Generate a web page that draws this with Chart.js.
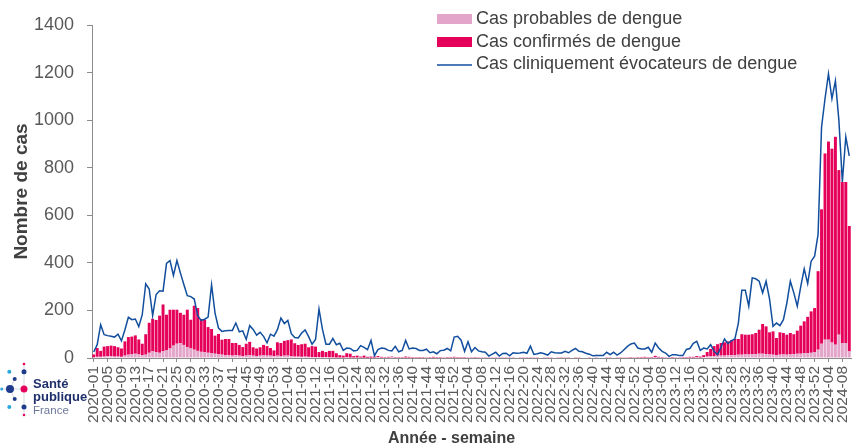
<!DOCTYPE html>
<html><head><meta charset="utf-8">
<script src="https://cdn.jsdelivr.net/npm/chart.js@4.4.1/dist/chart.umd.min.js"></script>
<style>
html,body{margin:0;padding:0;background:#fff;}
#wrap{position:relative;width:853px;height:446px;overflow:hidden;}
#c{position:absolute;left:0;top:0;}
#logo{position:absolute;left:0;top:358px;}
</style></head><body>
<div id="wrap">
<canvas id="c" width="853" height="446"></canvas>
<svg id="logo" width="92" height="66" viewBox="0 0 92 66">
  <g stroke="#c9cdd8" stroke-width="0.8">
    <line x1="10" y1="31" x2="24" y2="31"/><line x1="24" y1="6" x2="24" y2="57"/>
    <line x1="10" y1="31" x2="14.7" y2="21"/><line x1="10" y1="31" x2="14.7" y2="41"/>
    <line x1="1.7" y1="31" x2="10" y2="31"/>
  </g>
  <circle cx="9.3" cy="13.7" r="2" fill="#2aa6df"/>
  <circle cx="24" cy="13.7" r="2.5" fill="#1f3b8c"/>
  <circle cx="24" cy="6" r="1.3" fill="#e4005b"/>
  <circle cx="14.7" cy="21" r="2" fill="#1f3b8c"/>
  <circle cx="10" cy="31" r="4" fill="#1f3b8c"/>
  <circle cx="1.7" cy="31" r="1.5" fill="#2aa6df"/>
  <circle cx="24" cy="31" r="3.5" fill="#e4005b"/>
  <circle cx="14.7" cy="41" r="2" fill="#1f3b8c"/>
  <circle cx="9.3" cy="49" r="2" fill="#2aa6df"/>
  <circle cx="24" cy="49" r="2.5" fill="#1f3b8c"/>
  <circle cx="24" cy="57" r="1.3" fill="#e4005b"/>
  <text x="33" y="30" font-family="Liberation Sans" font-weight="bold" font-size="13" fill="#1e2f6b">Santé</text>
  <text x="33" y="43" font-family="Liberation Sans" font-weight="bold" font-size="13" fill="#1e2f6b">publique</text>
  <text x="33" y="56" font-family="Liberation Sans" font-size="11.5" fill="#6b7899">France</text>
</svg>
</div>
<script>
// Catégories : semaines ISO de 2020-01 à 2024-10
const annees = [2020, 2021, 2022, 2023, 2024];
const semainesParAnnee = [53, 52, 52, 52, 10];
const semaines = [];
annees.forEach((a, k) => { for (let w = 1; w <= semainesParAnnee[k]; w++) semaines.push(a + '-' + String(w).padStart(2, '0')); });

// Cas probables de dengue (barres, bas de la pile)
const probables = [
 3,5,5,6,8,8,6,6,5,10, 14,15,18,15,12,14,22,28,25,22, 28,32,40,52,60,62,55,45,40,35,
 30,26,24,22,20,18,16,14,12,12, 10,12,10,8,10,12,10,8,10,12, 10,10,8,
 10,8,10,10,8,6,6,5,6,5, 4,4,4,3,4,3,3,2,2,2, 3,2,2,2,2,1,1,1,
 2,3,2,2,2,3,2,1,2,2,2,2,1,1,2,1,1,2,2,1,1,1,2,2,
 2,1,1,1,1,1,1,0,1,0, 0,1,0,0,1,0,0,0,0,0, 1,0,0,0,0,0,0,0,0,0, 1,0,0,0,0,0,0,0,0,0, 0,0,0,0,0,0,0,1,0,1, 1,1,
 1,2,2,1,2,3,2,1,1,1,1,1,1,1,2,2,2,3,2,
 4,6,8,8,10,10,10,12,12,12, 14,14,15,15,16,16,18,18,16,15, 14,12,14,15,14,15,16,18,18,20,
 20,22,25,35,60,77,77,65,56,98, 63,63,28
];

// Cas confirmés de dengue (barres, haut de la pile)
const confirmes = [
 12,37,25,42,42,44,44,39,35,60, 74,75,77,63,48,86,126,137,135,156, 197,150,163,151,143,128,127,158,121,185,
 180,138,137,108,102,76,85,63,68,68, 53,51,45,38,50,56,35,32,35,43, 40,32,24,
 56,55,62,65,70,56,49,53,54,40, 46,44,21,27,21,27,27,18,10,8, 17,16,6,8,4,9,4,5,
 4,5,3,2,3,3,2,2,2,4,3,2,2,2,2,1,2,3,2,2,1,2,2,3,
 2,2,2,1,1,2,1,1,1,1, 1,1,1,1,1,1,1,0,1,1, 1,1,1,1,0,1,1,1,0,1, 1,1,1,0,1,1,0,0,1,0, 1,0,0,1,1,0,1,1,1,1, 2,1,
 2,2,3,2,2,6,3,2,1,1,2,1,1,2,2,3,3,5,4,
 8,19,30,42,48,53,56,58,63,68, 66,86,83,83,84,89,101,125,117,93, 98,72,94,90,84,90,84,97,118,134,
 153,174,185,330,565,783,833,815,874,692, 677,677,527
];

// Cas cliniquement évocateurs de dengue (ligne)
const cliniques = [
 25,56,140,98,94,91,88,100,72,119, 171,161,164,132,182,312,290,178,267,283, 281,398,410,347,410,358,309,262,258,248,
 178,158,163,172,308,189,126,112,115,116, 116,147,110,114,78,136,120,96,108,91, 64,100,92,
 119,168,145,158,102,86,84,105,118,90, 58,78,206,120,58,58,82,56,62,32, 42,40,30,32,52,45,35,74,10,35,
 42,40,32,30,49,26,32,74,38,42, 40,32,32,37,22,26,18,31,33,40, 30,88,
 91,75,28,68,26,44,30,26,24,8, 16,24,8,19,20,9,22,20,21,24, 20,50,15,18,22,18,12,26,22,21,
 21,28,22,32,40,28,26,20,16,9, 10,10,10,24,14,24,12,21,35,49, 59,63,
 42,38,38,45,24,63,42,28,21,7,14,14,10,10,36,40,62,70,32,
 42,38,56,28,14,46,80,60,73,80, 147,285,285,218,337,333,323,274,323,248, 133,147,136,161,232,323,274,218,300,375,
 313,407,428,520,970,1090,1195,1090,1165,1000, 740,930,850
];

const yTicks = [0, 200, 400, 600, 800, 1000, 1200, 1400];

const FONT = 'Liberation Sans';

const legendePlugin = {
  id: 'legende',
  afterDraw(chart) {
    const ctx = chart.ctx;
    const rows = [19, 42, 64.5];
    ctx.save();
    ctx.font = '18px "' + FONT + '"';
    ctx.textBaseline = 'middle';
    ctx.textAlign = 'left';
    chart.data.datasets.forEach((d, k) => {
      const y = rows[k];
      if (d.type === 'line') {
        ctx.strokeStyle = d.borderColor; ctx.lineWidth = 1.5;
        ctx.beginPath(); ctx.moveTo(437, y + 0.5); ctx.lineTo(472, y + 0.5); ctx.stroke();
      } else {
        ctx.fillStyle = d.backgroundColor; ctx.fillRect(437, y - 5, 35, 10);
      }
      ctx.fillStyle = '#404040';
      ctx.fillText(d.label, 476, y);
    });
    // titre de l'axe des abscisses
    const t = chart.options.scales.x.title;
    ctx.font = 'bold 16px "' + FONT + '"';
    ctx.fillStyle = '#404040';
    ctx.textAlign = 'center';
    ctx.fillText(t.text, 451.5, 439);
    ctx.restore();
  }
};

new Chart(document.getElementById('c'), {
  type: 'bar',
  data: {
    labels: semaines,
    datasets: [
      { type: 'bar', label: 'Cas probables de dengue', data: probables, backgroundColor: '#e3a6ca',
        stack: 'cas', order: 1, categoryPercentage: 1, barPercentage: 0.85 },
      { type: 'bar', label: 'Cas confirmés de dengue', data: confirmes, backgroundColor: '#e5005a',
        stack: 'cas', order: 2, categoryPercentage: 1, barPercentage: 0.85 },
      { type: 'line', label: 'Cas cliniquement évocateurs de dengue', data: cliniques, borderColor: '#124e9e',
        borderWidth: 1.5, pointRadius: 0, fill: false, tension: 0, stack: 'ligne', order: 0 }
    ]
  },
  options: {
    responsive: false, animation: false, devicePixelRatio: 1,
    layout: { padding: { top: 25, right: 2, left: 0, bottom: 0 } },
    plugins: { legend: { display: false }, tooltip: { enabled: false } },
    scales: {
      x: {
        stacked: true, offset: true,
        grid: { display: true, drawOnChartArea: false, drawTicks: true, tickLength: 4, color: '#8c8c8c', offset: false },
        border: { display: true, color: '#8c8c8c' },
        ticks: { autoSkip: false, maxRotation: 90, minRotation: 90, padding: 4, color: '#595959',
          font: { family: FONT, size: 15.5 },
          callback: (v, i) => (i % 4 === 0 ? semaines[i] : null) },
        title: { display: false, text: 'Année - semaine' },
        afterFit(s) { s.height = 88; s.paddingLeft = 0; s.paddingRight = 0; }
      },
      y: {
        stacked: true, min: 0, max: 1400,
        afterBuildTicks(s) { s.ticks = yTicks.map(v => ({ value: v })); },
        ticks: { padding: 13, color: '#595959', font: { family: FONT, size: 18 },
          callback: (v) => String(v) },
        grid: { drawOnChartArea: false, tickLength: 5, color: '#8c8c8c' },
        border: { display: true, color: '#8c8c8c' },
        title: { display: true, text: 'Nombre de cas', color: '#404040',
          font: { family: FONT, size: 19, weight: 'bold' }, padding: { top: 10, bottom: 0 } },
        afterFit(s) { s.width = 92; }
      }
    }
  },
  plugins: [legendePlugin]
});
</script>
</body></html>
